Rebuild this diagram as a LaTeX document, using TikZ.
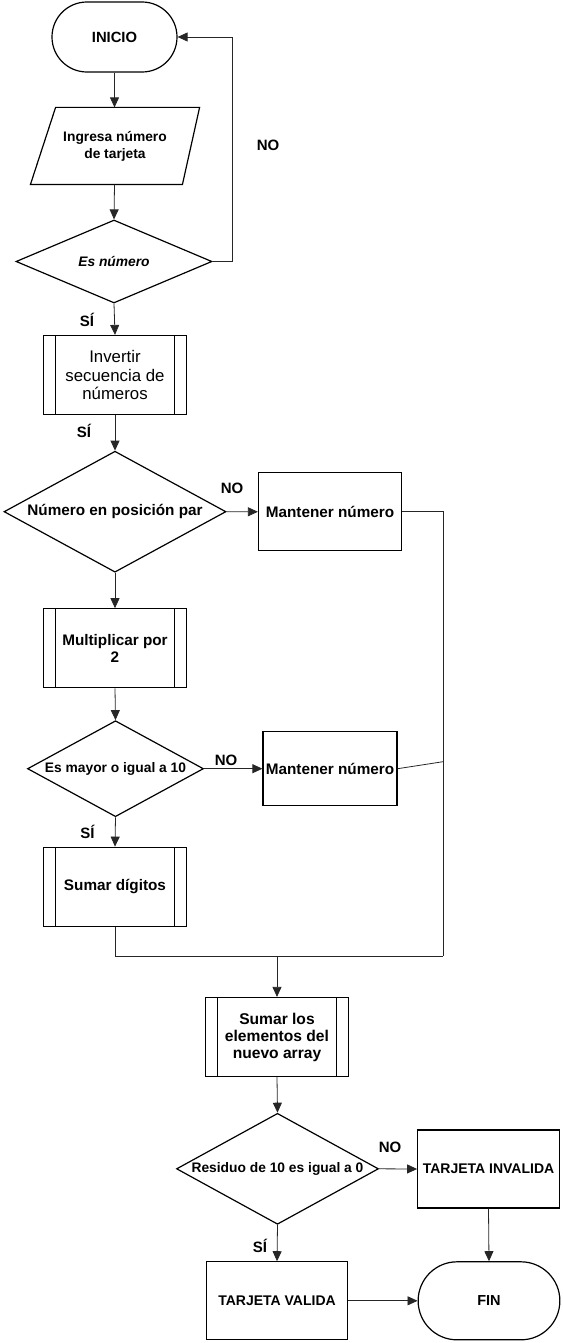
\documentclass[tikz,border=0pt]{standalone}
\usepackage{fontspec}
\setmainfont{Liberation Sans}
\usetikzlibrary{shapes.geometric,arrows.meta}
\tikzset{
  base/.style={draw=black, line width=1.2pt, font=\fontsize{15.3}{17.5}\selectfont\bfseries, align=center, inner sep=2pt},
  smallfont/.style={font=\fontsize{13.8}{17}\selectfont\bfseries},
  termbox/.style={base, rectangle},
  procbox/.style={base, rectangle},
  subproc/.style={base, rectangle, minimum width=143pt, minimum height=79pt,
    path picture={
      \draw[line width=1.2pt] ([xshift=12pt]path picture bounding box.north west) -- ([xshift=12pt]path picture bounding box.south west);
      \draw[line width=1.2pt] ([xshift=-12pt]path picture bounding box.north east) -- ([xshift=-12pt]path picture bounding box.south east);
    }},
  decbox/.style={base, diamond, inner sep=0pt},
  conn/.style={line width=0.8pt, draw=black!85},
  arr/.style={conn, -{Triangle[length=10pt,width=9pt]}},
  lbl/.style={font=\fontsize{15}{17.5}\selectfont\bfseries, inner sep=0pt}
}
\begin{document}
\begin{tikzpicture}[x=1pt,y=1pt]
\useasboundingbox (0,0) rectangle (562,-1343);

% nodes
\node[termbox, font=\fontsize{14.8}{17}\selectfont\bfseries, rounded corners=34.9pt, minimum width=125pt, minimum height=70pt] (ini) at (114.5,-37) {INICIO};
\node[base, smallfont, draw=none, minimum width=168pt, minimum height=76pt] (ing) at (115,-146) {Ingresa número\\de tarjeta};
\draw[line width=1.2pt] (ing.south west) -- ++(152,0) -- (ing.north east) -- ++(-144,0) -- cycle;
\node[decbox, smallfont, minimum width=196pt, minimum height=83pt] (esn) at (114,-261.5) {\makebox[0pt]{\itshape Es número}};
\node[subproc, font=\fontsize{16.8}{18.7}\selectfont] (inv) at (115,-375) {Invertir\\secuencia de\\números};
\node[decbox, minimum width=222pt, minimum height=121pt] (par) at (115,-511.7) {\makebox[0pt]{Número en posición par}};
\node[procbox, minimum width=143pt, minimum height=78pt] (man1) at (330,-511.8) {Mantener número};
\node[subproc] (mul) at (115,-648.3) {Multiplicar por\\2};
\node[decbox, smallfont, minimum width=176pt, minimum height=96pt] (may) at (115.5,-768.7) {\makebox[0pt]{Es mayor o igual a 10}};
\node[procbox, minimum width=134pt, minimum height=74pt] (man2) at (330,-768.7) {Mantener número};
\node[subproc] (sum) at (115,-886.7) {Sumar dígitos};
\node[subproc, font=\fontsize{15.6}{17}\selectfont\bfseries] (sel) at (277,-1037) {Sumar los\\elementos del\\nuevo array};
\node[decbox, smallfont, minimum width=202pt, minimum height=111pt] (res) at (277.5,-1168.8) {\makebox[0pt]{Residuo de 10 es igual a 0}};
\node[procbox, font=\fontsize{14}{17}\selectfont\bfseries, minimum width=141.6pt, minimum height=78pt] (inval) at (488.5,-1169) {TARJETA INVALIDA};
\node[procbox, font=\fontsize{14}{17}\selectfont\bfseries, minimum width=141.7pt, minimum height=78pt] (val) at (277,-1300.8) {TARJETA VALIDA};
\node[termbox, font=\fontsize{14.5}{17}\selectfont\bfseries, rounded corners=38.9pt, minimum width=141.7pt, minimum height=78pt] (fin) at (489,-1300.8) {FIN};

% coordinates
\coordinate (loop) at (232,-261.5);
\coordinate (busTop) at (443,-511.8);
\coordinate (busMid) at (443,-761.7);
\coordinate (busBot) at (443,-956);
\coordinate (sumBot) at (115,-956);
\coordinate (junc) at (277,-956);

% connectors
\draw[arr] (ini) -- (ini |- ing.north);
\draw[arr] (ini |- ing.south) -- (esn.north);
\draw[arr] (esn.east) -- (loop) |- (ini.east);
\draw[arr] (esn.south) -- (inv.north);
\draw[arr] (inv.south) -- (par.north);
\draw[arr] (par.east) -- (man1.west);
\draw[arr] (par.south) -- (mul.north);
\draw[arr] (mul.south) -- (may.north);
\draw[arr] (may.east) -- (man2.west);
\draw[arr] (may.south) -- (sum.north);
\draw[conn] (man1.east) -- (busTop) -- (busBot);
\draw[conn] (man2.east) -- (busMid);
\draw[conn] (sum.south) -- (sumBot) -- (busBot);
\draw[arr] (junc) -- (sel.north);
\draw[arr] (sel.south) -- (res.north);
\draw[arr] (res.east) -- (inval.west);
\draw[arr] (res.south) -- (val.north);
\draw[arr] (inval.south) -- (fin.north);
\draw[arr] (val.east) -- (fin.west);

% labels
\node[lbl] (l1) at (268,-145) {NO};
\node[lbl] (l2) at (87,-320) {SÍ};
\node[lbl] (l3) at (84,-431) {SÍ};
\node[lbl] (l4) at (232,-488) {NO};
\node[lbl] (l5) at (226,-760) {NO};
\node[lbl] (l6) at (87.5,-832) {SÍ};
\node[lbl] (l7) at (390,-1147) {NO};
\node[lbl] (l8) at (260,-1246) {SÍ};
\end{tikzpicture}
\end{document}
